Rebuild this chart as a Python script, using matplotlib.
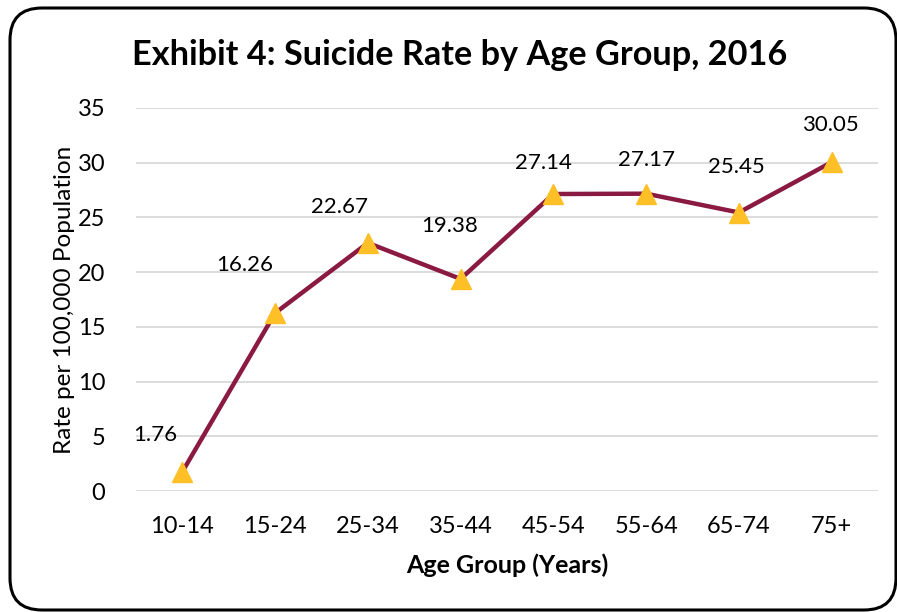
import matplotlib as mpl
import matplotlib.pyplot as plt
from matplotlib.patches import FancyBboxPatch
from matplotlib.transforms import IdentityTransform

mpl.rcParams['font.family'] = ['Lato', 'DejaVu Sans']

# data
age_groups = ['10-14', '15-24', '25-34', '35-44', '45-54', '55-64', '65-74', '75+']
rates = [1.76, 16.26, 22.67, 19.38, 27.14, 27.17, 25.45, 30.05]

# label offsets in pixels (dx, dy)
label_offsets = [(-27, 37), (-30, 48), (-28, 36), (-11, 53),
                 (-10, 31), (0, 34), (-3, 46), (-1, 37)]

LINE = '#8B1A42'
MARK = '#FFC027'
GRID = '#D9D9D9'

fig = plt.figure(figsize=(8.97, 6.12), dpi=100)
ax = fig.add_axes([136/897, 1 - 491/612, (878 - 136)/897, (491 - 108)/612])

x = range(len(age_groups))
ax.plot(x, rates, color=LINE, lw=3.2, zorder=3)
ax.plot(x, rates, ls='none', marker='^', color=MARK, markersize=15, zorder=4)

for i, (v, off) in enumerate(zip(rates, label_offsets)):
    ax.annotate(f'{v:.2f}', (i, v), xytext=off, textcoords='offset pixels',
                ha='center', va='center', fontsize=16, color='black')

ax.set_xlim(-0.5, len(age_groups) - 0.5)
ax.set_ylim(0, 35)
ax.set_yticks(range(0, 36, 5))
ax.set_xticks(list(x))
ax.set_xticklabels(age_groups)
ax.tick_params(length=0, labelsize=17)
ax.tick_params(axis='x', pad=18)
ax.tick_params(axis='y', pad=22)
ax.yaxis.grid(True, color=GRID, lw=1.3)
ax.set_axisbelow(True)
for s in ax.spines.values():
    s.set_visible(False)

ax.set_xlabel('Age Group (Years)', fontsize=18, fontweight='bold', labelpad=12)
ax.set_ylabel('Rate per 100,000 Population', fontsize=17.5, labelpad=2)

fig.text(460/897, 1 - 55/612, 'Exhibit 4: Suicide Rate by Age Group, 2016',
         ha='center', va='center', fontsize=24.7, fontweight='bold')

# rounded border
border = FancyBboxPatch((10, 2), 886, 602, boxstyle='round,pad=0,rounding_size=32',
                        transform=IdentityTransform(), fill=False, lw=2.2,
                        edgecolor='black', clip_on=False)
fig.patches.append(border)

fig.savefig('out.png', dpi=100)
